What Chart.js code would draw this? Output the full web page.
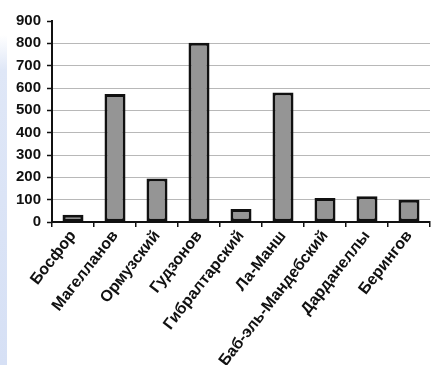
<!DOCTYPE html>
<html>
<head>
<meta charset="utf-8">
<script src="https://cdn.jsdelivr.net/npm/chart.js@4"></script>
<style>
  html, body { margin: 0; padding: 0; background: #fff; }
  body {
    width: 433px; height: 365px; overflow: hidden;
    background: linear-gradient(to bottom, #fff 0px, #fff 35px, #dfe7f7 70px, #d6e0f5 365px) no-repeat;
    background-size: 7px 365px;
  }
  #wrap { position: absolute; left: 0; top: 0; width: 433px; height: 365px; }
</style>
</head>
<body>
<div id="wrap"><canvas id="chart"></canvas></div>
<script>
// Straits, length
const straits = ["Босфор", "Магелланов", "Ормузский", "Гудзонов", "Гибралтарский",
                 "Ла-Манш", "Баб-эль-Мандебский", "Дарданеллы", "Берингов"];
const lengths = [32, 573, 195, 803, 58, 580, 107, 115, 100];
const yTicks = [0, 100, 200, 300, 400, 500, 600, 700, 800, 900];

const ctx = document.getElementById("chart").getContext("2d");

new Chart(ctx, {
    type: "bar",
    data: {
        labels: straits,
        datasets: [{
            data: lengths,
            backgroundColor: "#959595",
            borderColor: "#111",
            borderWidth: 3,
            borderSkipped: false,
            barPercentage: 0.5,
            categoryPercentage: 1,
        }],
    },
    options: {
        responsive: true,
        maintainAspectRatio: false,
        animation: false,
        layout: { padding: { top: 21, right: 3, left: 0, bottom: 0 } },
        plugins: {
            legend: { display: false },
            tooltip: { enabled: false },
        },
        scales: {
            x: {
                grid: {
                    offset: true,
                    drawOnChartArea: false,
                    drawTicks: true,
                    tickLength: 5,
                    color: "#111",
                    lineWidth: 1.5,
                },
                border: { color: "#111", width: 2 },
                ticks: {
                    color: "#111",
                    font: { family: "Liberation Sans", size: 16, weight: "bold" },
                    maxRotation: 52,
                    minRotation: 52,
                    autoSkip: false,
                    padding: 0,
                },
                afterFit: (scale) => { scale.height = 143; },
            },
            y: {
                min: 0,
                max: 900,
                afterBuildTicks: (scale) => {
                    scale.ticks = yTicks.map((v) => ({ value: v }));
                },
                grid: {
                    color: (c) => (c.tick && (c.tick.value === 0 || c.tick.value === 900)) ? "rgba(0,0,0,0)" : "#b8b8b8",
                    lineWidth: 1,
                    drawTicks: true,
                    tickLength: 5,
                    tickColor: "#111",
                    tickWidth: 1.5,
                },
                border: { color: "#111", width: 2 },
                ticks: {
                    color: "#111",
                    font: { family: "Liberation Sans", size: 15, weight: "bold" },
                    padding: 6,
                },
                afterFit: (scale) => { scale.width = 52; },
            },
        },
    },
});
</script>
</body>
</html>
